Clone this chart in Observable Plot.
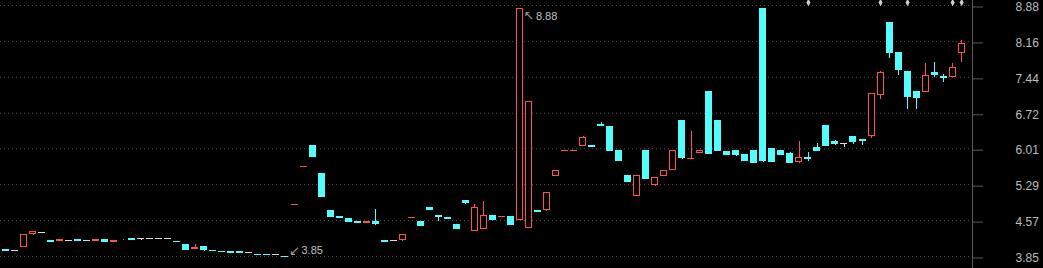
<!DOCTYPE html>
<html><head><meta charset="utf-8">
<script src="https://cdn.jsdelivr.net/npm/d3@7"></script>
<script src="https://cdn.jsdelivr.net/npm/@observablehq/plot@0.6"></script>
<style>
html,body{margin:0;padding:0;background:#000;overflow:hidden;}
#chart svg{display:block;}
</style></head><body><div id="chart"></div>
<script>
// ---- data ----
const open  = [3.99,3.98,4.04,4.30,4.34,4.17,4.15,4.18,4.19,4.18,4.15,4.19,4.13,4.17,4.21,4.21,4.21,4.21,4.21,4.15,
               4.09,3.99,4.05,3.97,3.95,3.95,3.95,3.93,3.90,3.90,3.89,3.86,4.88,5.65,6.07,5.51,4.77,4.65,4.61,4.55,
               4.51,4.55,4.17,4.17,4.17,4.62,4.55,4.83,4.67,4.63,4.49,4.97,4.36,4.40,4.67,4.64,4.65,4.58,4.42,4.77,
               4.78,5.45,5.96,5.96,6.06,6.07,6.50,6.46,5.97,5.47,5.06,5.97,5.28,5.46,5.58,6.58,5.79,5.92,7.16,6.58,
               5.95,5.97,5.89,5.97,8.82,6.01,5.97,5.91,5.73,5.83,6.03,6.48,6.15,6.11,6.25,6.19,6.26,7.08,8.54,7.94,
               7.56,7.16,7.14,7.54,7.46,7.44,7.92];
const high  = [3.99,3.98,4.29,4.35,4.34,4.17,4.19,4.18,4.19,4.18,4.19,4.19,4.17,4.19,4.21,4.21,4.21,4.21,4.21,4.15,
               4.09,4.09,4.05,3.97,3.95,3.95,3.95,3.93,3.90,3.90,3.89,3.86,4.89,5.66,6.07,5.51,4.77,4.65,4.61,4.55,
               4.55,4.79,4.17,4.17,4.29,4.63,4.55,4.83,4.67,4.63,4.49,4.97,4.89,4.95,4.67,4.65,4.65,8.82,6.96,4.77,
               5.13,5.57,5.97,5.97,6.25,6.07,6.54,6.46,5.97,5.47,5.47,5.97,5.43,5.57,5.97,6.58,6.36,5.97,7.16,6.58,
               5.95,5.97,5.89,5.97,8.82,6.01,5.97,5.93,6.15,5.93,6.11,6.48,6.17,6.11,6.25,6.19,7.12,7.56,8.54,7.94,
               7.56,7.16,7.72,7.74,7.50,7.72,8.18];
const low   = [3.95,3.98,4.04,4.28,4.34,4.15,4.15,4.18,4.15,4.18,4.15,4.13,4.13,4.17,4.17,4.17,4.21,4.21,4.21,4.13,
               3.97,3.99,3.95,3.95,3.93,3.91,3.91,3.93,3.89,3.89,3.89,3.85,4.88,5.65,5.83,5.03,4.63,4.61,4.53,4.51,
               4.51,4.48,4.16,4.17,4.15,4.62,4.45,4.77,4.56,4.62,4.39,4.89,4.36,4.40,4.57,4.64,4.47,4.58,4.42,4.74,
               4.75,5.45,5.96,5.96,6.06,6.03,6.46,5.95,5.75,5.33,5.06,5.39,5.25,5.46,5.58,5.79,5.79,5.92,5.89,5.95,
               5.87,5.85,5.75,5.71,5.73,5.73,5.87,5.71,5.71,5.75,5.95,6.05,6.07,6.03,6.09,6.07,6.21,7.00,7.82,7.48,
               6.80,6.80,7.14,7.44,7.34,7.44,7.74];
const close = [3.95,3.98,4.29,4.35,4.34,4.15,4.19,4.18,4.15,4.18,4.19,4.13,4.17,4.19,4.17,4.21,4.21,4.21,4.21,4.13,
               3.97,4.04,3.97,3.95,3.93,3.91,3.91,3.93,3.89,3.89,3.89,3.85,4.89,5.66,5.83,5.03,4.63,4.61,4.53,4.51,
               4.55,4.49,4.16,4.17,4.29,4.63,4.45,4.77,4.63,4.62,4.39,4.91,4.83,4.67,4.57,4.65,4.47,8.82,6.96,4.75,
               5.13,5.57,5.97,5.97,6.23,6.03,6.46,5.95,5.75,5.33,5.47,5.39,5.43,5.57,5.97,5.81,5.81,5.97,5.89,5.95,
               5.87,5.87,5.75,5.71,5.75,5.73,5.87,5.71,5.83,5.79,5.95,6.05,6.09,6.11,6.13,6.15,7.12,7.54,7.92,7.58,
               7.04,7.02,7.48,7.48,7.42,7.64,8.12];
const yTicks = [3.85, 4.57, 5.29, 6.01, 6.72, 7.44, 8.16, 8.88];
const markers = [89, 97, 100, 105, 106];               // small event marks along the top
const maxNote = {i: 57, label: "8.88"};               // highest price note
const minNote = {i: 31, label: "3.85"};               // lowest price note

// ---- table ----
const data = open.map((o, i) => ({i, o, h: high[i], l: low[i], c: close[i]}));
const upBars   = data.filter(d => d.c > d.o);
const downBars = data.filter(d => d.c < d.o);
const flatBars = data.filter(d => d.c === d.o);
const thinBars = data.filter(d => Math.abs(d.c - d.o) <= 0.02);
const UP = "#ff5050", DOWN = "#54fcfc", FLAT = "#dcdcdc";
const half = 0.388;
const xDomain = [-0.61, 107.2];
const colorOf = d => d.c > d.o ? UP : d.c < d.o ? DOWN : FLAT;

const noteHi = [{...maxNote, y: high[maxNote.i]}];
const noteLo = [{...minNote, y: low[minNote.i]}];

const chart = Plot.plot({
  width: 1043, height: 268,
  marginLeft: 0, marginRight: 71, marginTop: 5, marginBottom: 12,
  style: {background: "#000", color: "#c0c0c0", fontFamily: "'Liberation Sans', Arial, 'DejaVu Sans', sans-serif", fontSize: "12px"},
  x: {domain: xDomain, axis: null},
  y: {domain: [3.85, 8.88], axis: null},
  marks: [
    Plot.ruleY(yTicks, {stroke: "#505050", strokeDasharray: "1,3"}),
    Plot.frame({anchor: "right", stroke: "#5a5a5a", insetTop: -5, insetBottom: -12, shapeRendering: "crispEdges"}),
    Plot.axisY({anchor: "right", ticks: yTicks, tickFormat: d => d.toFixed(2), tickSize: 10, tickPadding: 33,
                stroke: "#5a5a5a", fill: "#bdbdbd", fontSize: 12, dy: 1.5, label: null}),
    // wicks
    Plot.ruleX(upBars,   {x: "i", y1: "l", y2: "h", stroke: UP,   shapeRendering: "crispEdges"}),
    Plot.ruleX(downBars, {x: "i", y1: "l", y2: "h", stroke: DOWN, shapeRendering: "crispEdges"}),
    Plot.ruleX(flatBars, {x: "i", y1: "l", y2: "h", stroke: FLAT, shapeRendering: "crispEdges"}),
    // bodies
    Plot.rect(downBars, {x1: d => d.i - half, x2: d => d.i + half, y1: "c", y2: "o", fill: DOWN, shapeRendering: "crispEdges"}),
    Plot.rect(upBars, {x1: d => d.i - half, x2: d => d.i + half, y1: "o", y2: "c", fill: "#000", stroke: UP, strokeWidth: 1, inset: 0.5, shapeRendering: "crispEdges"}),
    Plot.ruleY(thinBars, {y: "c", x1: d => d.i - half, x2: d => d.i + half, stroke: colorOf, shapeRendering: "crispEdges"}),
    // top event marks
    Plot.dot(markers, {x: d => d, frameAnchor: "top", dy: -3, symbol: "diamond", r: 2.2, fill: "#cfcfcf", stroke: null}),
    // annotations: arrows + labels
    Plot.text(noteHi, {x: "i", y: "y", text: () => "\u2196", textAnchor: "start", dx: 3.5, dy: 7, fill: "#9a9a9a", fontSize: 13, fontFamily: "DejaVu Sans"}),
    Plot.text(noteHi, {x: "i", y: "y", text: "label", textAnchor: "start", dx: 16, dy: 8, fill: "#c0c0c0", fontSize: 11}),
    Plot.text(noteLo, {x: "i", y: "y", text: () => "\u2199", textAnchor: "start", dx: 3.5, dy: -6, fill: "#9a9a9a", fontSize: 13, fontFamily: "DejaVu Sans"}),
    Plot.text(noteLo, {x: "i", y: "y", text: "label", textAnchor: "start", dx: 16, dy: -6, fill: "#c0c0c0", fontSize: 11})
  ]
});
document.getElementById("chart").append(chart);
</script>
</body></html>
